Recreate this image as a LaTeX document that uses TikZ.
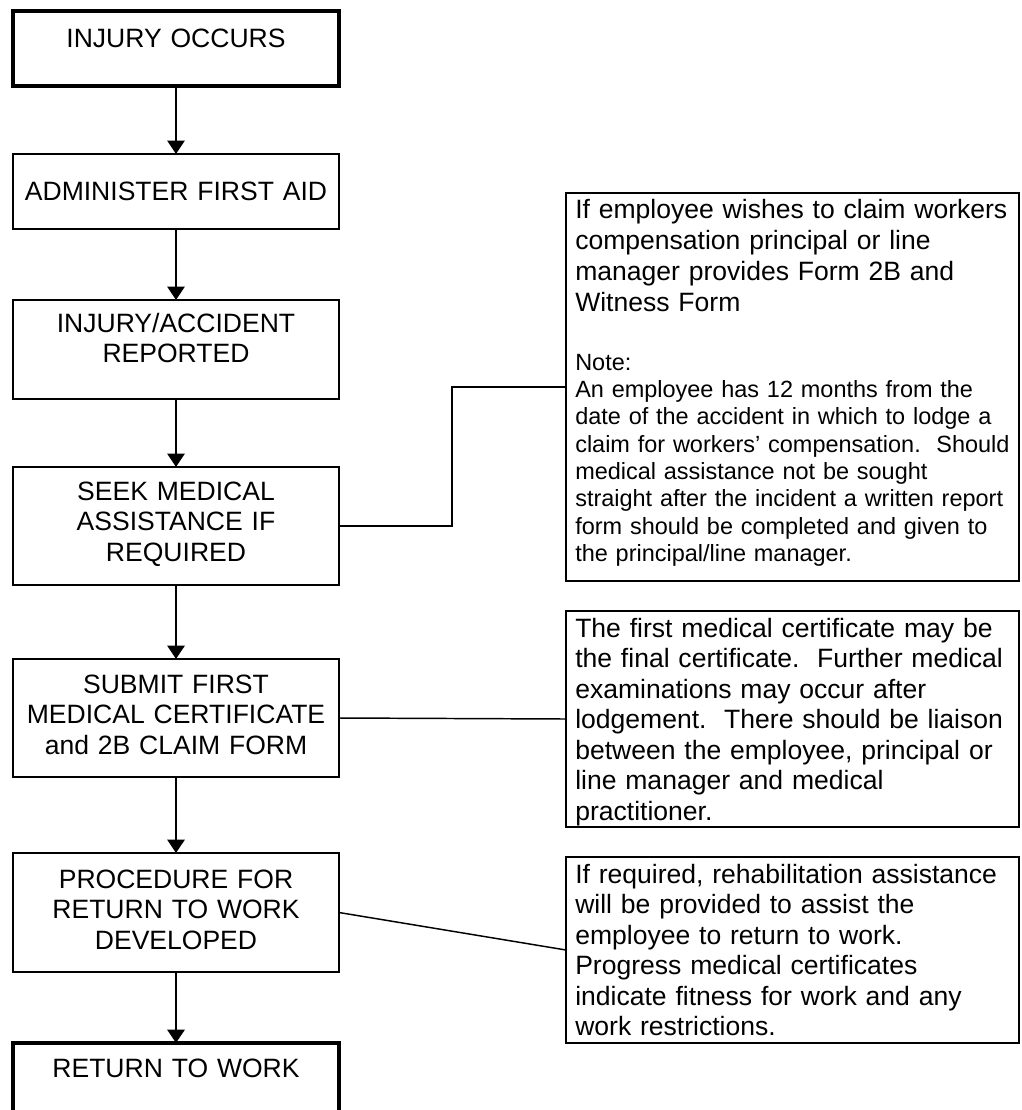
\documentclass[tikz,border=0pt]{standalone}
\usepackage{fontspec}
\setmainfont{Liberation Sans}
\usetikzlibrary{arrows.meta}
\frenchspacing
\begin{document}
\begin{tikzpicture}[x=0.75pt,y=-0.75pt,
  box/.style={draw, line width=1.3pt, minimum width=244.5pt, inner sep=0pt, outer sep=0pt},
  thickbox/.style={box, line width=3pt},
  notebox/.style={draw, line width=1.3pt, minimum width=339.75pt, inner sep=0pt, outer sep=0pt},
  ltext/.style={anchor=base, text width=240pt, align=center, inner sep=0pt, font=\fontsize{19.9pt}{23pt}\selectfont},
  rtext/.style={anchor=base west, text width=380pt, align=left, inner sep=0pt, font=\fontsize{19.9pt}{22.9pt}\selectfont},
  smalltext/.style={anchor=base west, text width=380pt, align=left, inner sep=0pt, font=\fontsize{17.6pt}{20.5pt}\selectfont},
  flow/.style={line width=1.3pt, -{Triangle[length=10pt,width=13pt]}},
  link/.style={line width=1.1pt}]
\clip (0,0) rectangle (1021,1110);
% left column boxes
\node[thickbox, minimum height=56.25pt] (b1) at (176,48.5) {};
\node[box, minimum height=56.25pt] (b2) at (176,191.5) {};
\node[box, minimum height=74.25pt] (b3) at (176,349.5) {};
\node[box, minimum height=88.5pt] (b4) at (176,526) {};
\node[box, minimum height=88.5pt] (b5) at (176,718) {};
\node[box, minimum height=89.25pt] (b6) at (176,912.5) {};
\node[thickbox, minimum height=60pt] (b7) at (176,1083) {};
% left texts
\node[ltext] (t1) at (176,47) {INJURY OCCURS};
\node[ltext] (t2) at (176,200) {ADMINISTER FIRST AID};
\node[ltext] (t3) at (176,332) {INJURY/ACCIDENT\\REPORTED};
\node[ltext] (t4) at (176,500) {SEEK MEDICAL\\ASSISTANCE IF\\REQUIRED};
\node[ltext] (t5) at (176,693) {SUBMIT FIRST\\MEDICAL CERTIFICATE\\and 2B CLAIM FORM};
\node[ltext] (t6) at (176,888) {PROCEDURE FOR\\RETURN TO WORK\\DEVELOPED};
\node[ltext] (t7) at (176,1077) {RETURN TO WORK};
% right column boxes
\node[notebox, minimum height=291pt] (A) at (792.5,387) {};
\node[notebox, minimum height=162pt] (B) at (792.5,719) {};
\node[notebox, minimum height=139.5pt] (C) at (792.5,950) {};
% right texts
\node[rtext, font=\fontsize{19.9pt}{23.25pt}\selectfont] (ta) at (575,218) {If employee wishes to claim workers\\compensation principal or line\\manager provides Form 2B and\\Witness Form};
\node[smalltext] (tn) at (575,370) {Note:\\An employee has 12 months from the\\date of the accident in which to lodge a\\claim for workers’ compensation.~ Should\\medical assistance not be sought\\straight after the incident a written report\\form should be completed and given to\\the principal/line manager.};
\node[rtext] (tb) at (575,637) {The first medical certificate may be\\the final certificate.~ Further medical\\examinations may occur after\\lodgement.~ There should be liaison\\between the employee, principal or\\line manager and medical\\practitioner.};
\node[rtext] (tc) at (575,883) {If required, rehabilitation assistance\\will be provided to assist the\\employee to return to work.\\Progress medical certificates\\indicate fitness for work and any\\work restrictions.};
% flow arrows
\draw[flow] (b1.south) -- (b2.north);
\draw[flow] (b2.south) -- (b3.north);
\draw[flow] (b3.south) -- (b4.north);
\draw[flow] (b4.south) -- (b5.north);
\draw[flow] (b5.south) -- (b6.north);
\draw[flow] (b6.south) -- (b7.north);
% links to notes
\coordinate (bend) at (452,526);
\draw[link] (b4.east) -- (bend) |- (A.west);
\draw[link] (b5.east) -- (B.west);
\draw[link] (b6.east) -- (C.west);
\end{tikzpicture}
\end{document}
